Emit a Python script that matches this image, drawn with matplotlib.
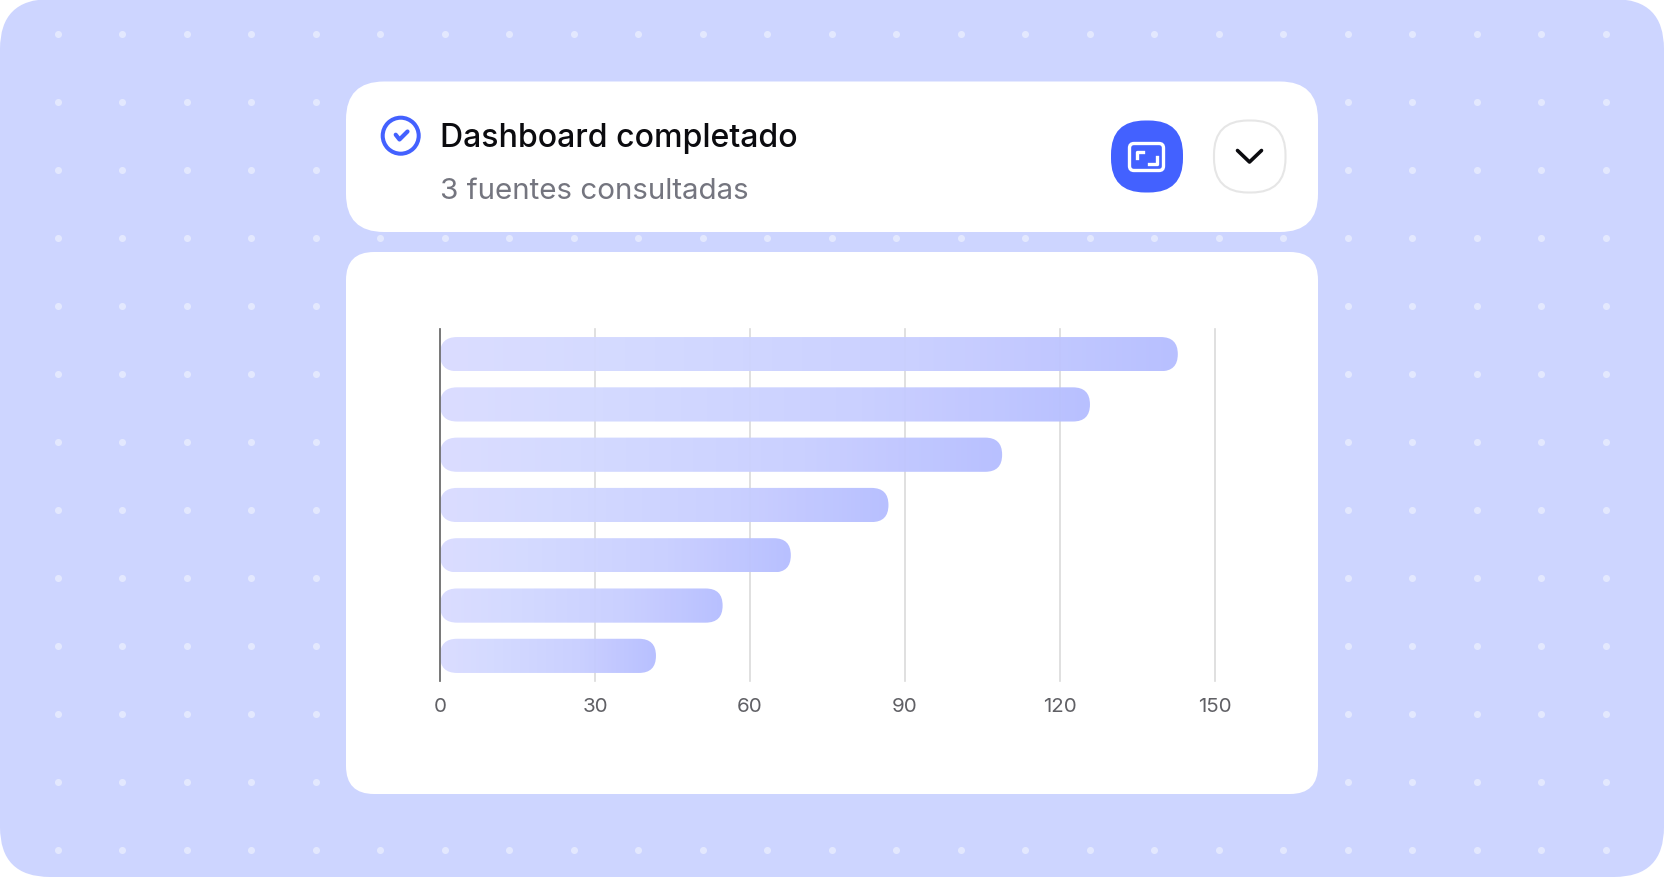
"""Dashboard card with a horizontal bar chart whose bars fade left to right."""

import matplotlib.pyplot as plt
import numpy as np
from matplotlib.colors import LinearSegmentedColormap
from matplotlib.patches import Circle, FancyBboxPatch

W, H = 1664, 878

values = [142.8, 125.8, 108.8, 86.8, 67.9, 54.7, 41.8]
xticks = [0, 30, 60, 90, 120, 150]
title = "Dashboard completado"
subtitle = "3 fuentes consultadas"

BG = "#CDD5FF"
BLUE = "#4361FF"
fade = LinearSegmentedColormap.from_list(
    "fade", [(0, "#DADCFF"), (0.25, "#D3D9FF"), (0.65, "#C9CFFF"), (1, "#B6BEFF")])

plt.rcParams["font.family"] = ["Inter", "DejaVu Sans"]
fig = plt.figure(figsize=(W / 100, H / 100), dpi=100, facecolor="white")

# page layer in pixel coordinates
page = fig.add_axes([0, 0, 1, 1])
page.set_xlim(0, W)
page.set_ylim(H, 0)
page.axis("off")


def card(x0, y0, x1, y1, r, ax=page, **kw):
    p = FancyBboxPatch((x0, y0), x1 - x0, y1 - y0,
                       boxstyle=f"round,pad=0,rounding_size={r}", **kw)
    ax.add_patch(p)
    return p


card(0, 0, W, H, 50, fc=BG, ec="none", zorder=1)
dx, dy = np.meshgrid(57.5 + 64.5 * np.arange(25), 35 + 68 * np.arange(13))
page.scatter(dx.ravel(), dy.ravel(), s=26, c="#E3E8FE", linewidths=0, zorder=2)

card(346, 82.5, 1318, 233, 38, fc="white", ec="none", zorder=3)
card(346, 253, 1318, 795, 28, fc="white", ec="none", zorder=3)

page.text(439.5, 147, title, fontsize=23.1, fontweight="medium", color="#0B0B0F", zorder=5)
page.text(440.5, 199, subtitle, fontsize=21.3, color="#74757F", zorder=5)

# check icon
page.add_patch(Circle((400.7, 136.7), 18, fc="none", ec=BLUE, lw=2.9, zorder=5))
page.plot([395.7, 399.5, 407.5], [135.7, 140.5, 132.5], color=BLUE, lw=3,
          solid_capstyle="round", solid_joinstyle="round", zorder=5)

# expand button
card(1111, 121.5, 1183, 193.5, 34, fc=BLUE, ec="none", zorder=5)
card(1129.5, 144.5, 1163.5, 171.5, 4.5, fc="none", ec="white", lw=2.4, zorder=6)
page.plot([1136.5, 1136.5, 1143], [159, 152.5, 152.5], color="white", lw=2.4, zorder=6)
page.plot([1149, 1156.5, 1156.5], [165, 165, 158], color="white", lw=2.4, zorder=6)

# collapse button
card(1214, 121.5, 1285.5, 193.5, 34, fc="white", ec="#E6E6E6", lw=1.5, zorder=5)
page.plot([1237.5, 1249.5, 1261.5], [151.5, 163, 151.5], color="#0B0B0F", lw=2.6,
          solid_capstyle="round", solid_joinstyle="round", zorder=6)

# chart
ax_l, ax_r, ax_t, ax_b = 440, 1215, 330, 682
ax = fig.add_axes([ax_l / W, 1 - ax_b / H, (ax_r - ax_l) / W, (ax_b - ax_t) / H])
ax.patch.set_alpha(0)
ax.set_xlim(0, 150)
ax.set_ylim(len(values) - 0.5, -0.5)
for s in ["top", "right", "bottom"]:
    ax.spines[s].set_visible(False)
ax.spines["left"].set_color("#666666")
ax.spines["left"].set_linewidth(1.2)
ax.spines["left"].set_zorder(6)
ax.set_yticks([])
ax.set_xticks(xticks)
ax.tick_params(axis="x", length=0, pad=11.2, labelsize=14.8, labelcolor="#606065")
ax.grid(axis="x", color="#DADADA", lw=1.2, zorder=0, clip_on=False)
ax.set_axisbelow(True)

grad = np.linspace(0, 1, 256).reshape(1, -1)
bar_h = 0.68
sx = (ax_r - ax_l) / 150
sy = (ax_b - ax_t) / len(values)
for i, v in enumerate(values):
    y0, y1 = i - bar_h / 2, i + bar_h / 2
    clip = FancyBboxPatch((0, y0), v, bar_h, boxstyle=f"round,pad=0,rounding_size={17 / sx}",
                          mutation_aspect=sx / sy, fc="none", ec="none", zorder=1)
    ax.add_patch(clip)
    im = ax.imshow(grad, extent=(0, v, y1, y0), aspect="auto", cmap=fade,
                   vmin=0, vmax=1, alpha=0.97, zorder=2, interpolation="bilinear")
    im.set_clip_path(clip)
ax.set_xlim(0, 150)
ax.set_ylim(len(values) - 0.5, -0.5)

fig.savefig("out.png", dpi=100, facecolor="white")
